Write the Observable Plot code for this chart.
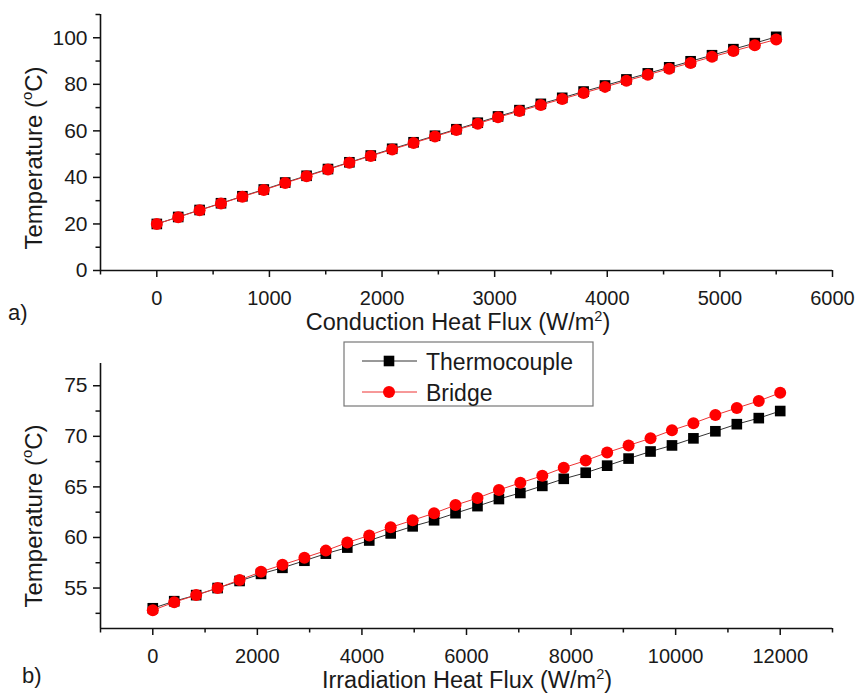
<!DOCTYPE html>
<html><head><meta charset="utf-8">
<script src="https://cdn.jsdelivr.net/npm/d3@7"></script>
<script src="https://cdn.jsdelivr.net/npm/@observablehq/plot@0.6"></script>
<style>
body{margin:0;background:#fff;}
#wrap{position:relative;width:858px;height:698px;font-family:"Liberation Sans",Arial,sans-serif;}
#wrap svg{position:absolute;left:0;overflow:visible;}
</style></head><body><div id="wrap"></div>
<script>
// ---- data ----
const seriesNames = ["Thermocouple", "Bridge"];

// a) conduction
const condFlux = [0,190,380,570,760,950,1140,1330,1520,1710,1900,2090,2280,2470,2660,2850,3030,3220,3410,3600,3790,3980,4170,4360,4550,4740,4930,5120,5310,5500];
const condThermo = [20.0,23.0,26.0,28.9,31.9,34.8,37.8,40.7,43.6,46.5,49.4,52.3,55.1,57.9,60.7,63.5,66.2,68.9,71.6,74.2,76.9,79.5,82.1,84.7,87.3,89.9,92.5,95.1,97.7,100.4];
const condBridge = [20.0,22.9,25.9,28.8,31.7,34.6,37.6,40.5,43.4,46.3,49.2,52.0,54.8,57.6,60.4,63.1,65.8,68.5,71.1,73.7,76.3,78.9,81.5,84.1,86.7,89.2,91.8,94.3,96.8,99.3];

// b) irradiation
const irrFlux = [0,410,830,1240,1660,2070,2480,2900,3310,3720,4140,4550,4970,5380,5790,6210,6620,7030,7450,7860,8280,8690,9100,9520,9930,10340,10760,11170,11590,12000];
const irrThermo = [53.0,53.7,54.3,55.0,55.7,56.4,57.0,57.7,58.4,59.0,59.7,60.4,61.1,61.7,62.4,63.1,63.8,64.4,65.1,65.8,66.4,67.1,67.8,68.5,69.1,69.8,70.5,71.2,71.8,72.5];
const irrBridge = [52.8,53.6,54.3,55.0,55.8,56.6,57.3,58.0,58.7,59.5,60.2,61.0,61.7,62.4,63.2,63.9,64.7,65.4,66.1,66.9,67.6,68.4,69.1,69.8,70.6,71.3,72.1,72.8,73.5,74.3];

// ticks
const condXTicks = [0,1000,2000,3000,4000,5000,6000];
const condXMinor = [-500,500,1500,2500,3500,4500,5500];
const condYTicks = [0,20,40,60,80,100];
const condYMinor = [10,30,50,70,90,110];
const irrXTicks = [0,2000,4000,6000,8000,10000,12000];
const irrXMinor = [-1000,1000,3000,5000,7000,9000,11000,13000];
const irrYTicks = [55,60,65,70,75];
const irrYMinor = [52.5,57.5,62.5,67.5,72.5];

const colors = {Thermocouple: "#000000", Bridge: "#ff0000"};
const lineColors = {Thermocouple: "#333333", Bridge: "#ee3333"};
const FONT = "'Liberation Sans', Arial, sans-serif";
const plain = d => String(d);

function rows(xs, a, b) {
  const out = [];
  xs.forEach((x, i) => out.push({x, y: a[i], s: seriesNames[0]}));
  xs.forEach((x, i) => out.push({x, y: b[i], s: seriesNames[1]}));
  return out;
}

function panel(cfg) {
  const data = rows(cfg.xs, cfg.a, cfg.b);
  const th = data.filter(d => d.s === "Thermocouple");
  const br = data.filter(d => d.s === "Bridge");
  return Plot.plot({
    width: 858, height: cfg.height,
    marginLeft: 100, marginRight: 26, marginTop: cfg.mt, marginBottom: 70,
    style: {fontFamily: FONT, background: "transparent", overflow: "visible"},
    x: {domain: cfg.xd, label: null},
    y: {domain: cfg.yd, label: null},
    marks: [
      Plot.line(th, {x: "x", y: "y", stroke: lineColors.Thermocouple, strokeWidth: 1}),
      Plot.line(br, {x: "x", y: "y", stroke: lineColors.Bridge, strokeWidth: 1}),
      Plot.dot(th, {x: "x", y: "y", symbol: "square", r: 6, fill: colors.Thermocouple, stroke: "none"}),
      Plot.dot(br, {x: "x", y: "y", symbol: "circle", r: 6, fill: colors.Bridge, stroke: "none"}),
      Plot.ruleX([cfg.xd[0]], {stroke: "#111", strokeWidth: 1.6}),
      Plot.ruleY([cfg.yd[0]], {stroke: "#111", strokeWidth: 1.6}),
      Plot.axisX(cfg.xt, {tickSize: 7, tickPadding: 13, fontSize: 20, fill: "#1a1a1a", stroke: "#111", strokeWidth: 1.5, label: null, tickFormat: plain}),
      Plot.axisX(cfg.xm, {tickSize: 4.5, tickFormat: () => "", stroke: "#111", strokeWidth: 1.5, label: null}),
      Plot.axisY(cfg.yt, {tickSize: 7, tickPadding: 6, fontSize: 21, fill: "#1a1a1a", stroke: "#111", strokeWidth: 1.5, label: null, tickFormat: plain}),
      Plot.axisY(cfg.ym, {tickSize: 4.5, tickFormat: () => "", stroke: "#111", strokeWidth: 1.5, label: null})
    ]
  });
}

function addText(svg, x, y, parts, size, rotate, anchor) {
  const t = d3.select(svg).append("text")
    .attr("transform", `translate(${x},${y}) rotate(${rotate || 0})`)
    .attr("text-anchor", anchor || "middle")
    .attr("font-family", FONT)
    .attr("font-size", size)
    .attr("fill", "#1a1a1a");
  const shift = size * 0.4;
  let pendingDown = false;
  parts.forEach(p => {
    if (typeof p === "string") {
      const ts = t.append("tspan").text(p);
      if (pendingDown) { ts.attr("dy", shift); pendingDown = false; }
    } else {
      t.append("tspan").attr("dy", -shift).attr("font-size", size * 0.62).text(p.sup);
      pendingDown = true;
    }
  });
  return t;
}

const wrap = document.getElementById("wrap");

// Panel a
const svgA = panel({height: 340, mt: 14, xs: condFlux, a: condThermo, b: condBridge,
  xd: [-500, 6000], yd: [0, 110], xt: condXTicks, xm: condXMinor, yt: condYTicks, ym: condYMinor});
svgA.style.top = "0px";
wrap.appendChild(svgA);
addText(svgA, 458, 330, ["Conduction Heat Flux (W/m", {sup: "2"}, ")"], 23.5);
addText(svgA, 42, 158, ["Temperature (", {sup: "o"}, "C)"], 24, -90);
addText(svgA, 8, 320, ["a)"], 22, 0, "start");

// Panel b
const svgB = panel({height: 358, mt: 23, xs: irrFlux, a: irrThermo, b: irrBridge,
  xd: [-1000, 13000], yd: [51, 77.2], xt: irrXTicks, xm: irrXMinor, yt: irrYTicks, ym: irrYMinor});
svgB.style.top = "340px";
wrap.appendChild(svgB);
addText(svgB, 467, 348, ["Irradiation Heat Flux (W/m", {sup: "2"}, ")"], 23.5);
addText(svgB, 42, 176, ["Temperature (", {sup: "o"}, "C)"], 24, -90);
addText(svgB, 22, 343, ["b)"], 22, 0, "start");

// Legend
const lg = d3.select(svgB).append("g");
lg.append("rect").attr("x", 344).attr("y", 2).attr("width", 249).attr("height", 64)
  .attr("fill", "#fff").attr("stroke", "#777").attr("stroke-width", 1.2);
seriesNames.forEach((name, i) => {
  const cy = 21 + i * 31;
  lg.append("line").attr("x1", 362).attr("x2", 417).attr("y1", cy).attr("y2", cy)
    .attr("stroke", lineColors[name]).attr("stroke-width", 1);
  if (name === "Thermocouple") {
    lg.append("rect").attr("x", 389 - 5.3).attr("y", cy - 5.3).attr("width", 10.6).attr("height", 10.6).attr("fill", colors[name]);
  } else {
    lg.append("circle").attr("cx", 389).attr("cy", cy).attr("r", 6).attr("fill", colors[name]);
  }
  lg.append("text").attr("x", 426).attr("y", cy + 8.5).attr("font-family", FONT)
    .attr("text-anchor", "start")
    .attr("font-size", 23).attr("fill", "#1a1a1a").text(name);
});
</script></body></html>
